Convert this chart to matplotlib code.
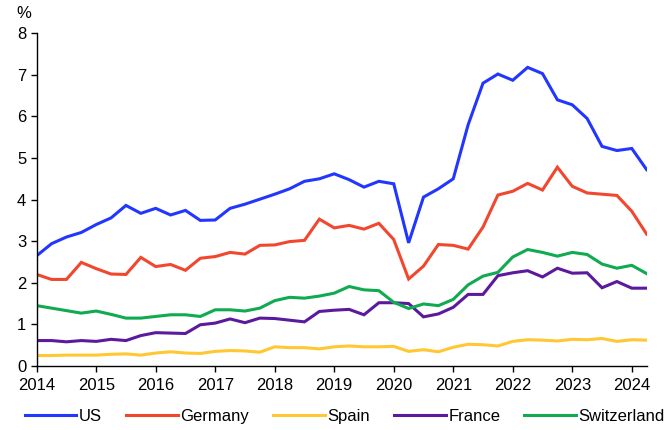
import numpy as np
import matplotlib
matplotlib.use("Agg")
from matplotlib import pyplot as plt

plt.rcParams['font.family'] = ['Liberation Sans', 'DejaVu Sans']

# quarterly, 2014 Q1 .. 2024 Q2
quarters = np.arange(2014, 2024.26, 0.25)

us = [2.65, 2.94, 3.10, 3.21, 3.40, 3.56, 3.86, 3.67, 3.79, 3.63, 3.74, 3.50,
      3.51, 3.79, 3.89, 4.01, 4.13, 4.26, 4.44, 4.50, 4.62, 4.48, 4.30, 4.44,
      4.38, 2.96, 4.06, 4.26, 4.50, 5.80, 6.80, 7.02, 6.87, 7.18, 7.03, 6.40,
      6.28, 5.95, 5.28, 5.18, 5.23, 4.72]
germany = [2.20, 2.08, 2.08, 2.49, 2.34, 2.21, 2.20, 2.61, 2.39, 2.44, 2.30, 2.59,
           2.63, 2.73, 2.69, 2.90, 2.91, 2.99, 3.02, 3.53, 3.32, 3.38, 3.29, 3.43,
           3.04, 2.09, 2.40, 2.92, 2.90, 2.81, 3.34, 4.11, 4.20, 4.39, 4.23, 4.78,
           4.32, 4.16, 4.13, 4.10, 3.72, 3.17]
spain = [0.25, 0.25, 0.26, 0.26, 0.26, 0.28, 0.29, 0.26, 0.31, 0.34, 0.31, 0.30,
         0.35, 0.37, 0.36, 0.33, 0.46, 0.44, 0.44, 0.41, 0.46, 0.48, 0.46, 0.46,
         0.47, 0.35, 0.39, 0.34, 0.45, 0.52, 0.51, 0.48, 0.59, 0.63, 0.62, 0.60,
         0.64, 0.63, 0.66, 0.59, 0.63, 0.62]
france = [0.61, 0.61, 0.58, 0.61, 0.59, 0.64, 0.61, 0.73, 0.80, 0.79, 0.78, 0.99,
          1.03, 1.13, 1.04, 1.15, 1.14, 1.10, 1.06, 1.31, 1.34, 1.36, 1.23, 1.52,
          1.52, 1.50, 1.18, 1.25, 1.41, 1.72, 1.72, 2.17, 2.24, 2.29, 2.14, 2.35,
          2.23, 2.24, 1.88, 2.03, 1.87, 1.87]
switzerland = [1.45, 1.39, 1.33, 1.27, 1.32, 1.24, 1.15, 1.15, 1.19, 1.23, 1.23, 1.19,
               1.35, 1.35, 1.32, 1.39, 1.57, 1.65, 1.63, 1.68, 1.75, 1.91, 1.83, 1.81,
               1.53, 1.38, 1.49, 1.45, 1.60, 1.95, 2.16, 2.25, 2.62, 2.80, 2.73, 2.64,
               2.73, 2.68, 2.45, 2.35, 2.42, 2.22]

series = [("US", us, "#2236ff"), ("Germany", germany, "#f2472f"),
          ("Spain", spain, "#ffc732"), ("France", france, "#5b1a9e"),
          ("Switzerland", switzerland, "#10aa50")]

fig = plt.figure(figsize=(6.67, 4.30), dpi=100)
ax = fig.add_axes([0.055, 0.149, 0.9145, 0.7736])

for name, vals, col in series:
    ax.plot(quarters, vals, color=col, lw=2.2, label=name, solid_joinstyle='miter')

ax.set_xlim(2014, 2024.25)
ax.set_ylim(0, 8)
ax.set_xticks(range(2014, 2025))
ax.set_yticks(range(0, 9))
ax.tick_params(labelsize=12, length=4, width=1, direction='out')
ax.tick_params(axis='x', pad=5)
for s in ("top", "right"):
    ax.spines[s].set_visible(False)
for s in ("left", "bottom"):
    ax.spines[s].set_linewidth(1)

fig.text(0.035, 0.968, "%", fontsize=12, ha='center', va='center')

fig.legend(loc='center', bbox_to_anchor=(0.517, 0.032), ncol=5, frameon=False,
           fontsize=12, handlelength=3.1, handletextpad=0.15, columnspacing=1.45)

fig.savefig("out.png", dpi=100)
